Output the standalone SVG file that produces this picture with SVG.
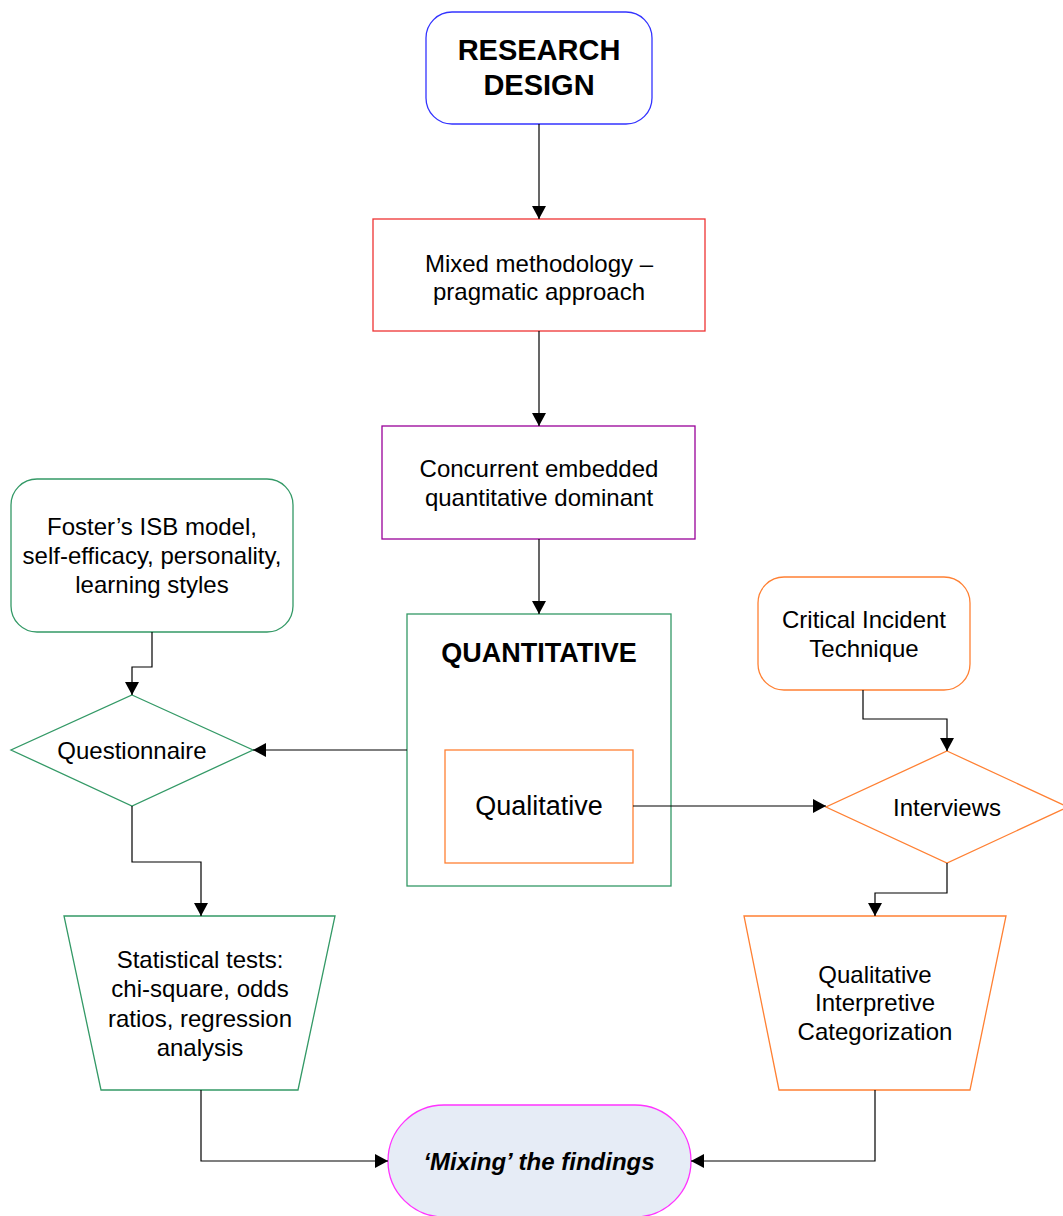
<svg xmlns="http://www.w3.org/2000/svg" width="1063" height="1216" viewBox="0 0 1063 1216">
  <defs>
    <marker id="arrow" viewBox="0 0 13 14" refX="13" refY="7" markerWidth="13" markerHeight="14" markerUnits="userSpaceOnUse" orient="auto">
      <path d="M0,0 L13,7 L0,14 Z" fill="#000"/>
    </marker>
    <style>
      .node { fill: #fff; stroke-width: 1.3; }
      .t { font-family: "Liberation Sans", Arial, sans-serif; font-size: 24px; fill: #000; text-anchor: middle; dominant-baseline: central; }
      .b { font-weight: bold; }
      .conn { fill: none; stroke: #000; stroke-width: 1.2; marker-end: url(#arrow); }
    </style>
  </defs>
  <rect width="1063" height="1216" fill="#fff"/>

  <g id="research-design">
    <rect class="node" x="426" y="12" width="226" height="112" rx="26" stroke="#3333ff"/>
    <text class="t b" x="539" y="50" style="font-size:29px">RESEARCH</text>
    <text class="t b" x="539" y="85" style="font-size:29px">DESIGN</text>
  </g>

  <g id="mixed-methodology">
    <rect class="node" x="373" y="219" width="332" height="112" stroke="#ee3333"/>
    <text class="t" x="539" y="263">Mixed methodology –</text>
    <text class="t" x="539" y="291">pragmatic approach</text>
  </g>

  <g id="concurrent-embedded">
    <rect class="node" x="382" y="426" width="313" height="113" stroke="#990099"/>
    <text class="t" x="539" y="468">Concurrent embedded</text>
    <text class="t" x="539" y="497">quantitative dominant</text>
  </g>

  <g id="quantitative">
    <rect class="node" x="407" y="614" width="264" height="272" stroke="#339966"/>
    <text class="t b" x="539" y="653" style="font-size:27px">QUANTITATIVE</text>
  </g>

  <g id="qualitative">
    <rect class="node" x="445" y="750" width="188" height="113" stroke="#ff8033"/>
    <text class="t" x="539" y="806" style="font-size:27px">Qualitative</text>
  </g>

  <g id="foster-model">
    <rect class="node" x="11" y="479" width="282" height="153" rx="26" stroke="#339966"/>
    <text class="t" x="152" y="526">Foster’s ISB model,</text>
    <text class="t" x="152" y="555">self-efficacy, personality,</text>
    <text class="t" x="152" y="584">learning styles</text>
  </g>

  <g id="questionnaire">
    <polygon class="node" points="132,695 253,750 132,806 11,750" stroke="#339966"/>
    <text class="t" x="132" y="750">Questionnaire</text>
  </g>

  <g id="statistical-tests">
    <polygon class="node" points="64,916 335,916 298,1090 101,1090" stroke="#339966"/>
    <text class="t" x="200" y="959">Statistical tests:</text>
    <text class="t" x="200" y="988">chi-square, odds</text>
    <text class="t" x="200" y="1018">ratios, regression</text>
    <text class="t" x="200" y="1047">analysis</text>
  </g>

  <g id="critical-incident">
    <rect class="node" x="758" y="577" width="212" height="113" rx="26" stroke="#ff8033"/>
    <text class="t" x="864" y="619">Critical Incident</text>
    <text class="t" x="864" y="648">Technique</text>
  </g>

  <g id="interviews">
    <polygon class="node" points="947,751 1068,807 947,863 826,807" stroke="#ff8033"/>
    <text class="t" x="947" y="807">Interviews</text>
  </g>

  <g id="interpretive-categorization">
    <polygon class="node" points="744,916 1006,916 970,1090 779,1090" stroke="#ff8033"/>
    <text class="t" x="875" y="974">Qualitative</text>
    <text class="t" x="875" y="1002">Interpretive</text>
    <text class="t" x="875" y="1031">Categorization</text>
  </g>

  <g id="mixing-findings">
    <rect x="388" y="1105" width="303" height="112" rx="56" fill="#e6ecf6" stroke="#ff33ff" stroke-width="1.3"/>
    <text class="t b" x="539" y="1161" style="font-style:italic">‘Mixing’ the findings</text>
  </g>

  <g id="connectors">
    <path class="conn" d="M539,124 V219"/>
    <path class="conn" d="M539,331 V426"/>
    <path class="conn" d="M539,539 V614"/>
    <path class="conn" d="M152,632 V667 H132 V695"/>
    <path class="conn" d="M407,750 H253"/>
    <path class="conn" d="M132,806 V862 H201 V916"/>
    <path class="conn" d="M201,1090 V1161 H388"/>
    <path class="conn" d="M863,690 V719 H947 V751"/>
    <path class="conn" d="M633,806 H826"/>
    <path class="conn" d="M947,863 V893 H875 V916"/>
    <path class="conn" d="M875,1090 V1161 H691"/>
  </g>
</svg>
